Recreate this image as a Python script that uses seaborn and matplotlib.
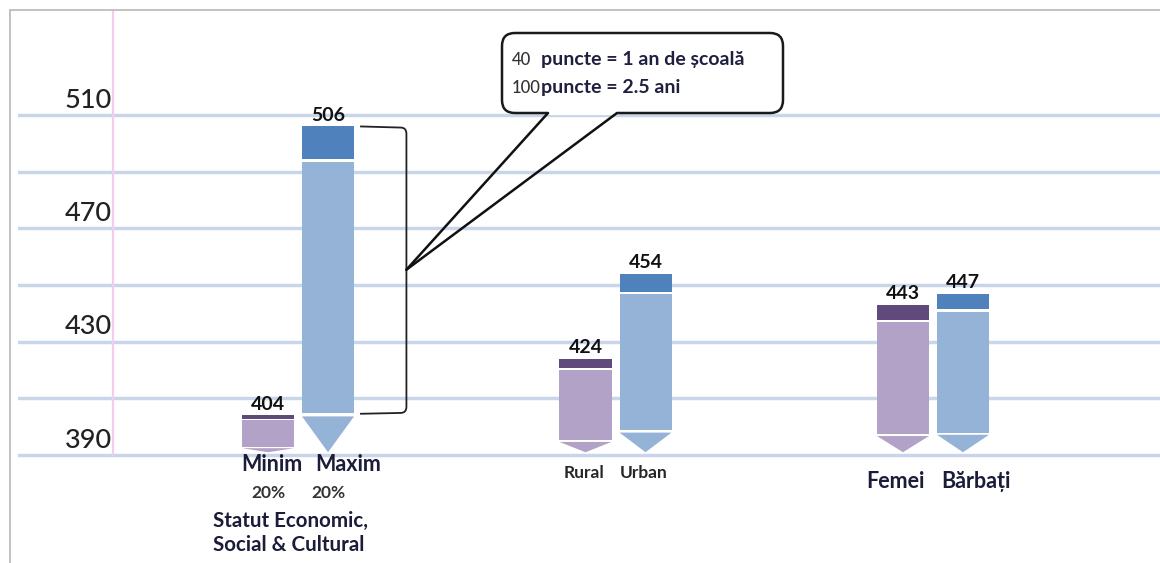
import matplotlib
matplotlib.use("Agg")
import pandas as pd
import matplotlib.pyplot as plt
import matplotlib.transforms as mtransforms
from matplotlib.patches import Rectangle, Polygon, FancyBboxPatch, PathPatch
from matplotlib.path import Path
from matplotlib.lines import Line2D
import seaborn as sns

# ---- date (scoruri) ----
GROUPS = ["Statut", "Mediu", "Gen"]
LEVELS = ["jos", "sus"]
LOW_LABELS = ["Minim", "Rural", "Femei"]
HIGH_LABELS = ["Maxim", "Urban", "Bărbați"]
LOW_SCORES = [404, 424, 443]
HIGH_SCORES = [506, 454, 447]
Y_LABELS = [390, 430, 470, 510]
GRID_LEVELS = [390, 410, 430, 450, 470, 490, 510]
SES_SHARE = ["20%", "20%"]
SES_TITLE = "Statut Economic,\nSocial & Cultural"
NOTE_NUMBERS = ["40", "100"]
NOTE_TEXTS = ["puncte = 1 an de școală", "puncte = 2.5 ani"]

BASE = 391  # varful sagetilor
BODY = {"jos": "#b3a2c7", "sus": "#95b3d7"}
CAP = {"jos": "#604a7b", "sus": "#4f81bd"}

W, H = 1160, 563

df = pd.DataFrame({
    "grup": GROUPS * 2,
    "nivel": ["jos"] * len(GROUPS) + ["sus"] * len(GROUPS),
    "scor": LOW_SCORES + HIGH_SCORES,
})

sns.set_theme(style="white")
plt.rcParams["font.family"] = ["Lato", "DejaVu Sans"]

fig = plt.figure(figsize=(W / 100, H / 100), dpi=100)
ax = fig.add_axes([18 / W, 0, 1 - 18 / W, (H - 10) / H])

sns.barplot(
    data=df, x="grup", y="scor", hue="nivel", order=GROUPS, hue_order=LEVELS,
    palette=[BODY[l] for l in LEVELS], saturation=1, width=0.378, gap=0.133,
    errorbar=None, legend=False, linewidth=0, ax=ax, zorder=3,
)

ax.set_xlim(-0.882, 2.715)
ax.set_ylim(351.9, 547.1)
ax.set_yticks(GRID_LEVELS)
ax.set_yticklabels([])
ax.set_xticks([])
ax.set_xlabel("")
ax.set_ylabel("")
ax.tick_params(length=0)
ax.yaxis.grid(True, color="#c9d6ea", linewidth=2.5)
ax.set_axisbelow(True)
for s in ax.spines.values():
    s.set_visible(False)

# linia roz verticala
ylo, yhi = ax.get_ylim()
ax.axvline(-0.583, ymin=(390 - ylo) / (yhi - ylo), ymax=1, color="#f3cdee", lw=1.6, zorder=1)

for v in Y_LABELS:
    ax.text(-0.587, v + 0.9, str(v), ha="right", va="bottom", fontsize=19.5,
            fontweight="medium", color="#222222")

# "creioane": corp + capac inchis + triunghi
bars = {}
for level, cont in zip(LEVELS, ax.containers):
    for i, bar in enumerate(cont):
        x0, w, top = bar.get_x(), bar.get_width(), bar.get_height()
        span = top - BASE
        gap = 0.3 + 0.008 * span
        tri = 0.11 * span
        cap = 0.10 * span
        body_lo = BASE + tri + gap
        body_hi = top - cap - gap
        bar.set_y(body_lo)
        bar.set_height(body_hi - body_lo)
        ax.add_patch(Rectangle((x0, top - cap), w, cap, color=CAP[level], lw=0, zorder=3))
        ax.add_patch(Polygon([(x0, BASE + tri), (x0 + w, BASE + tri), (x0 + w / 2, BASE)],
                             closed=True, color=BODY[level], lw=0, zorder=3))
        ax.text(x0 + w / 2, top + 1.0, f"{top:.0f}", ha="center", va="bottom",
                fontsize=14, fontweight="bold", color="#111111", zorder=5)
        bars[(level, i)] = (x0, w, top, body_lo)

# etichete sub bare
label_y = [386.5, 383.6, 380.5]
label_size = [15.5, 12.5, 15.5]
label_color = ["#1b1b3a", "#262626", "#1b1b3a"]
label_shift = [(0.012, 0.065), (-0.006, -0.006), (-0.025, 0.04)]
for i in range(len(GROUPS)):
    for level, names, dx in zip(LEVELS, [LOW_LABELS, HIGH_LABELS], label_shift[i]):
        x0, w, _, _ = bars[(level, i)]
        ax.text(x0 + w / 2 + dx, label_y[i], names[i], ha="center", va="center",
                fontsize=label_size[i], fontweight="bold", color=label_color[i])

for level, share in zip(LEVELS, SES_SHARE):
    x0, w, _, _ = bars[(level, 0)]
    ax.text(x0 + w / 2, 376.6, share, ha="center", va="center", fontsize=12.5,
            fontweight="bold", color="#333333")
ax.text(-0.268, 362.6, SES_TITLE, ha="left", va="center", fontsize=14.8,
        fontweight="bold", color="#1b1b3a", linespacing=1.25)

# acolada langa bara Maxim
x0, w, top, lo = bars[("sus", 0)]
xr = x0 + w
x1, xc, rx, ry = xr + 0.019, xr + 0.165, 0.018, 2.2
verts = [(x1, top), (xc - rx, top - 0.4), (xc, top - 0.4), (xc, top - 0.4 - ry),
         (xc, lo + ry), (xc, lo), (xc - rx, lo), (x1, lo - 0.3)]
codes = [Path.MOVETO, Path.LINETO, Path.CURVE3, Path.CURVE3,
         Path.LINETO, Path.CURVE3, Path.CURVE3, Path.LINETO]
ax.add_patch(PathPatch(Path(verts, codes), fill=False, ec="#222222", lw=1.3, zorder=4))
apex = ax.transData.transform((xc, (top + lo) / 2))

# balon cu nota
ident = mtransforms.IdentityTransform()
box = FancyBboxPatch((502, H - 113), 281, 80, boxstyle="round,pad=0,rounding_size=13",
                     transform=ident, fc="white", ec="#1a1a1a", lw=1.8, zorder=6)
fig.add_artist(box)
fig.add_artist(Line2D([549, 616], [H - 113, H - 113], transform=ident, color="white", lw=3, zorder=7))
for bx in (548, 617):
    fig.add_artist(Line2D([bx, apex[0]], [H - 113, apex[1]], transform=ident,
                          color="#111111", lw=1.8, zorder=7))

for num, txt, ty, tx in zip(NOTE_NUMBERS, NOTE_TEXTS, [60, 88], [541, 541]):
    fig.text(512 / W, 1 - ty / H, num, ha="left", va="center", fontsize=12,
             fontweight="medium", color="#333333", zorder=8)
    fig.text(tx / W, 1 - ty / H, txt, ha="left", va="center", fontsize=14,
             fontweight="bold", color="#1f1f3f", zorder=8)

# chenar gri
fig.add_artist(Line2D([10 / W, 10 / W], [0, 1 - 10 / H], transform=fig.transFigure, color="#bdbdbd", lw=1.3))
fig.add_artist(Line2D([10 / W, 1], [1 - 10 / H, 1 - 10 / H], transform=fig.transFigure, color="#bdbdbd", lw=1.3))

fig.savefig("out.png", dpi=100)
